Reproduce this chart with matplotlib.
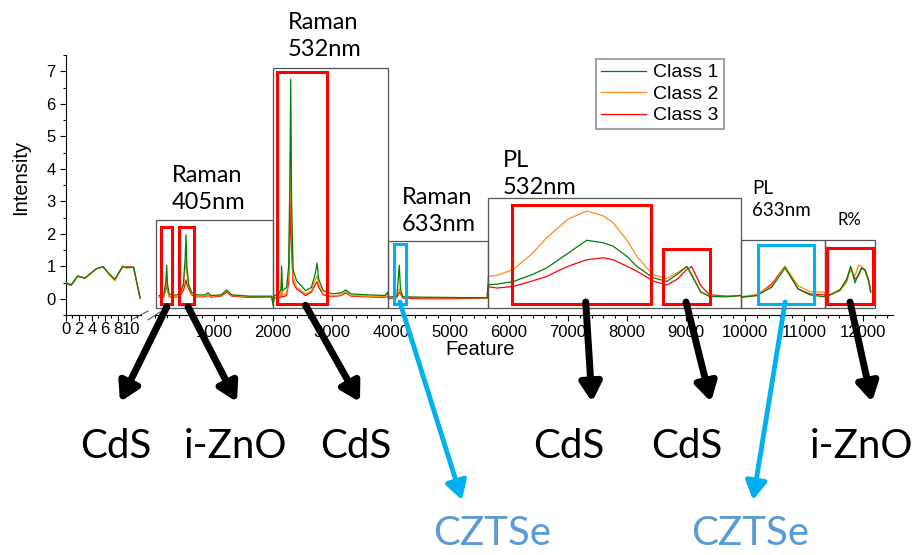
import matplotlib
matplotlib.use("Agg")
import matplotlib.pyplot as plt
from matplotlib.patches import Rectangle
from matplotlib.ticker import MultipleLocator

plt.rcParams['font.family'] = ['Liberation Sans', 'DejaVu Sans']

# left (short) segment of the broken axis
x_left = [0, 0.8, 1.8, 2.9, 4.0, 4.7, 5.7, 6.5, 7.5, 8.7, 9.5, 10.4, 11.4]
g_left = [0.50, 0.43, 0.70, 0.64, 0.82, 0.93, 0.99, 0.80, 0.60, 0.98, 0.95, 0.98, 0.02]
o_left = [0.47, 0.42, 0.70, 0.62, 0.80, 0.92, 0.99, 0.78, 0.55, 1.00, 0.97, 0.97, 0.03]
r_left = [0.46, 0.41, 0.69, 0.63, 0.81, 0.92, 0.98, 0.79, 0.57, 1.00, 0.99, 0.96, 0.02]

# main segment: Raman 405 / Raman 532 / Raman 633 / PL 532 / PL 633 / R%
x_main = [70, 150, 185, 198, 212, 240, 300, 420, 480, 510, 525, 540, 570, 620, 700,
          850, 900, 950, 1120, 1215, 1300, 1600, 1980, 2000, 2020,
          2100, 2135, 2147, 2160, 2230, 2265, 2285, 2300, 2315, 2340, 2400, 2480,
          2550, 2650, 2720, 2746, 2775, 2850, 3000, 3150, 3237, 3320, 3600, 3900, 3940,
          3960, 4100, 4140, 4160, 4200, 4500, 5000, 5630,
          5645, 5800, 6073, 6400, 6640, 7000, 7317, 7600, 7763, 8000, 8164, 8440, 8672,
          8850, 9012, 9096, 9250, 9400, 9700, 9920,
          9950, 10200, 10450, 10678, 10900, 11100, 11340,
          11384, 11610, 11723, 11791, 11864, 11921, 11977, 12034, 12090, 12130]
class1 = [0.10, 0.12, 0.55, 1.03, 0.45, 0.15, 0.10, 0.14, 0.45, 1.20, 1.97, 1.00, 0.45, 0.20, 0.12,
          0.12, 0.18, 0.10, 0.12, 0.27, 0.12, 0.08, 0.08, -0.20, 0.10,
          0.15, 0.30, 1.00, 0.25, 0.35, 1.00, 3.50, 6.76, 3.00, 0.90, 0.55, 0.40,
          0.25, 0.35, 0.80, 1.10, 0.60, 0.25, 0.15, 0.18, 0.27, 0.15, 0.12, 0.10, 0.20,
          0.05, 0.08, 1.03, 0.30, 0.06, 0.05, 0.04, 0.03,
          0.43, 0.45, 0.53, 0.75, 0.95, 1.40, 1.80, 1.72, 1.62, 1.30, 1.00, 0.65, 0.53,
          0.75, 0.99, 0.75, 0.20, 0.07, 0.06, 0.10,
          0.05, 0.10, 0.35, 0.95, 0.30, 0.12, 0.06,
          0.07, 0.28, 0.59, 1.00, 0.49, 0.75, 0.95, 0.87, 0.60, 0.20]
class2 = [0.05, 0.06, 0.40, 0.75, 0.30, 0.08, 0.06, 0.08, 0.35, 0.90, 1.25, 0.80, 0.38, 0.15, 0.08,
          0.08, 0.12, 0.07, 0.10, 0.24, 0.10, 0.06, 0.06, -0.15, 0.05,
          0.05, 0.10, 0.60, 0.10, 0.15, 0.80, 2.80, 4.90, 2.30, 0.70, 0.35, 0.25,
          0.15, 0.25, 0.60, 0.70, 0.45, 0.15, 0.08, 0.12, 0.22, 0.10, 0.08, 0.06, 0.10,
          0.02, 0.05, 0.30, 0.20, 0.04, 0.03, 0.03, 0.03,
          0.69, 0.72, 0.90, 1.40, 1.88, 2.45, 2.70, 2.55, 2.34, 1.80, 1.31, 0.74, 0.62,
          0.80, 0.99, 0.70, 0.22, 0.08, 0.07, 0.10,
          0.07, 0.13, 0.40, 1.00, 0.40, 0.22, 0.20,
          0.07, 0.25, 0.50, 0.90, 0.70, 1.03, 1.00, 0.85, 0.55, 0.20]
class3 = [0.05, 0.05, 0.30, 0.60, 0.25, 0.06, 0.05, 0.07, 0.25, 0.45, 0.58, 0.45, 0.30, 0.12, 0.06,
          0.06, 0.10, 0.05, 0.08, 0.20, 0.08, 0.04, 0.05, -0.15, 0.03,
          0.02, 0.05, 0.40, 0.05, 0.10, 0.50, 1.80, 2.96, 1.50, 0.50, 0.30, 0.20,
          0.10, 0.20, 0.45, 0.52, 0.35, 0.12, 0.06, 0.10, 0.18, 0.08, 0.06, 0.04, 0.08,
          0.00, 0.03, 0.20, 0.15, 0.02, 0.00, 0.00, 0.02,
          0.37, 0.33, 0.38, 0.55, 0.69, 1.00, 1.20, 1.26, 1.20, 1.00, 0.85, 0.55, 0.42,
          0.60, 0.90, 0.99, 0.40, 0.12, 0.08, 0.10,
          0.05, 0.10, 0.45, 1.00, 0.30, 0.15, 0.12,
          0.07, 0.25, 0.60, 0.95, 0.60, 0.70, 0.95, 0.90, 0.60, 0.25]

labels = ['Class 1', 'Class 2', 'Class 3']
colors = ['#008000', '#FF8C1A', '#FF0000']

# gray region boxes: (x0, x1, top, title, title size)
regions = [(17, 2000, 2.41, 'Raman\n405nm', 17),
           (2000, 3949, 7.10, 'Raman\n532nm', 17),
           (3949, 5644, 1.79, 'Raman\n633nm', 17),
           (5644, 9932, 3.09, 'PL\n532nm', 17),
           (9932, 11356, 1.82, 'PL\n633nm', 13.5),
           (11356, 12203, 1.82, 'R%', 12)]
title_pos = [(172, 165), (288, 12), (402, 187), (503, 150), (752, 180), (838, 212)]

# highlighted bands: (x0, x1, top, colour)
bands = [(102, 288, 2.22, 'red'), (407, 661, 2.22, 'red'), (2068, 2915, 6.98, 'red'),
         (4051, 4254, 1.67, 'cyan'), (6051, 8407, 2.87, 'red'), (8610, 9407, 1.54, 'red'),
         (10220, 11169, 1.64, 'cyan'), (11390, 12170, 1.57, 'red')]

# arrows: start (data x, y), tip (pixels), assigned material, label position (pixels)
arrow_start = [(200, -0.25), (560, -0.25), (2550, -0.2), (4150, -0.1),
               (7300, -0.1), (9000, -0.1), (10680, -0.1), (11780, -0.1)]
arrow_tip = [(120, 402), (237, 402), (360, 402), (462, 500),
             (592, 402), (711, 402), (753, 500), (872, 402)]
materials = ['CdS', 'i-ZnO', 'CdS', 'CZTSe', 'CdS', 'CdS', 'CZTSe', 'i-ZnO']
mat_pos = [(116, 458), (235, 458), (356, 458), (492, 545),
           (569, 458), (687, 458), (750, 545), (862, 458)]

W, H = 920, 555
fig = plt.figure(figsize=(W / 100, H / 100), dpi=100)


def fx(px):
    return px / W


def fy(py):
    return 1 - py / H


ax1 = fig.add_axes([fx(66), fy(315), fx(141) - fx(66), fy(55) - fy(315)])
ax2 = fig.add_axes([fx(155), fy(315), fx(893) - fx(155), fy(55) - fy(315)])

for y, c, lab, z in zip([g_left, o_left, r_left], colors, labels, [4, 3, 2]):
    ax1.plot(x_left, y, color=c, lw=0.9, zorder=z)
for y, c, lab, z in zip([class1, class2, class3], colors, labels, [4, 3, 2]):
    ax2.plot(x_main, y, color=c, lw=0.9, label=lab, zorder=z)

for ax in (ax1, ax2):
    ax.set_ylim(-0.5, 7.5)
    ax.spines['top'].set_visible(False)
    ax.spines['right'].set_visible(False)
    ax.tick_params(which='both', direction='out', labelsize=12, width=0.8)
    ax.tick_params(which='major', length=4)
    ax.tick_params(which='minor', length=2.5)

ax1.set_xlim(0, 11.54)
ax1.xaxis.set_major_locator(MultipleLocator(2))
ax1.xaxis.set_minor_locator(MultipleLocator(1))
ax1.yaxis.set_major_locator(MultipleLocator(1))
ax1.yaxis.set_minor_locator(MultipleLocator(0.5))
ax1.tick_params(axis='x', pad=1)
ax1.set_ylabel('Intensity', fontsize=14.5)
ax1.yaxis.set_label_coords(-0.48, 0.53)

ax2.set_xlim(0, 12508)
ax2.set_xticks(range(1000, 13000, 1000))
ax2.xaxis.set_minor_locator(MultipleLocator(200))
ax2.spines['left'].set_visible(False)
ax2.set_yticks([])
ax2.patch.set_alpha(0)
ax2.set_xlabel('Feature', fontsize=14.5)
ax2.xaxis.set_label_coords((480 - 155) / 738, -0.095)

# axis break marks
for (x0, y0, x1, y1) in [(133, 319, 148, 311), (148, 320, 160, 312)]:
    fig.add_artist(plt.Line2D([fx(x0), fx(x1)], [fy(y0), fy(y1)], color='#444444', lw=0.7))

leg = ax2.legend(loc='upper left', bbox_to_anchor=(fx(596), fy(59)),
                 bbox_transform=fig.transFigure, fontsize=14, frameon=True, fancybox=False,
                 handlelength=2.3, handletextpad=0.4, borderpad=0.25, labelspacing=0.2,
                 borderaxespad=0)
leg.get_frame().set_edgecolor('#777777')
leg.get_frame().set_linewidth(1.2)

anno_font = ['Lato', 'DejaVu Sans']
for (x0, x1, top, title, size), (tx, ty) in zip(regions, title_pos):
    ax2.add_patch(Rectangle((x0, -0.28), x1 - x0, top + 0.28, fill=False, ec='#555555',
                            lw=0.9, clip_on=False, zorder=5))
    fig.text(fx(tx), fy(ty), title, fontsize=size, family=anno_font, ha='left', va='top',
             linespacing=1.35)

for x0, x1, top, kind in bands:
    ec = '#FF0000' if kind == 'red' else '#00B0F0'
    ax2.add_patch(Rectangle((x0, -0.15), x1 - x0, top + 0.15, fill=False, ec=ec,
                            lw=2.2, clip_on=False, zorder=6))

for (sx, sy), (tx, ty), mat, (mx, my) in zip(arrow_start, arrow_tip, materials, mat_pos):
    cz = mat == 'CZTSe'
    ax2.annotate('', xy=(fx(tx), fy(ty)), xycoords='figure fraction',
                 xytext=(sx, sy), textcoords='data',
                 arrowprops=dict(arrowstyle='-|>,head_length=0.55,head_width=0.32',
                                 mutation_scale=20, lw=3.5 if cz else 5,
                                 color='#00B0F0' if cz else 'black',
                                 shrinkA=0, shrinkB=0), zorder=7)
    fig.text(fx(mx), fy(my), mat, fontsize=29, family=anno_font, ha='center', va='baseline',
             color='#5B9BD5' if cz else 'black')

fig.savefig('out.png', dpi=100)
